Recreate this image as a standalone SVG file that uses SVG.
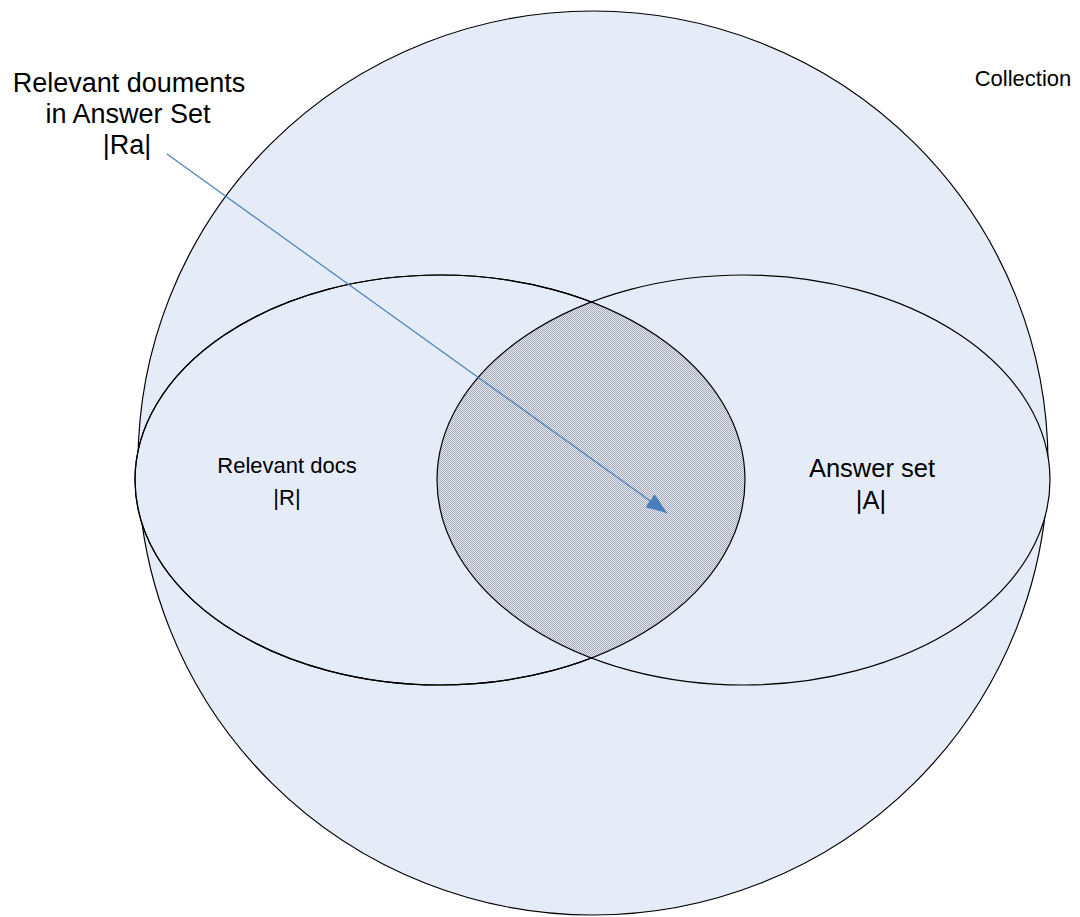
<svg xmlns="http://www.w3.org/2000/svg" width="1080" height="917" viewBox="0 0 1080 917">
  <style>
    .set { fill: #e6ecf7; stroke: #000; stroke-width: 1.2; }
    .outline { fill: none; stroke: #000; stroke-width: 1.2; }
    .label { font-family: "Liberation Sans", Arial, sans-serif; font-size: 22px; fill: #000; text-anchor: middle; }
    .big { font-size: 27px; }
    .mid { font-size: 25.5px; }
    .pointer { stroke: #4a7ebb; stroke-width: 1.2; fill: none; }
  </style>
  <defs>
    <!-- fine dither used for the overlap of the two sets -->
    <pattern id="dither" width="2" height="2" patternUnits="userSpaceOnUse">
      <rect width="2" height="2" fill="#e4e9f2"/>
      <rect width="1" height="1" fill="#a3a9b6"/>
      <rect x="1" y="1" width="1" height="1" fill="#a3a9b6"/>
    </pattern>
    <clipPath id="clip-r">
      <ellipse cx="440" cy="480" rx="305" ry="205"/>
    </clipPath>
    <marker id="head" markerUnits="userSpaceOnUse" markerWidth="24" markerHeight="18" refX="21" refY="8" orient="auto">
      <path d="M0,0 L21,8 L0,16 Z" fill="#4a7ebb"/>
    </marker>
  </defs>

  <g id="collection">
    <ellipse class="set" cx="593" cy="463" rx="455" ry="452"/>
    <text class="label" x="1023" y="86">Collection</text>
  </g>

  <g id="relevant-docs">
    <ellipse class="set" cx="440" cy="480" rx="305" ry="205"/>
    <text class="label" x="287" y="473">Relevant docs</text>
    <text class="label" x="287" y="505">|R|</text>
  </g>

  <g id="answer-set">
    <ellipse cx="743.5" cy="480" rx="306.5" ry="205" fill="#e6ecf7"/>
    <ellipse cx="743.5" cy="480" rx="306.5" ry="205" fill="url(#dither)" clip-path="url(#clip-r)"/>
    <ellipse class="outline" cx="440" cy="480" rx="305" ry="205"/>
    <ellipse class="outline" cx="743.5" cy="480" rx="306.5" ry="205"/>
    <text class="label mid" x="872" y="477">Answer set</text>
    <text class="label mid" x="871" y="509">|A|</text>
  </g>

  <g id="relevant-answer-label">
    <text class="label big" x="129" y="92">Relevant douments</text>
    <text class="label big" x="128" y="123">in Answer Set</text>
    <text class="label big" x="127" y="154">|Ra|</text>
  </g>

  <g id="connectors">
    <line class="pointer" x1="167" y1="154" x2="667" y2="513" marker-end="url(#head)"/>
  </g>
</svg>
